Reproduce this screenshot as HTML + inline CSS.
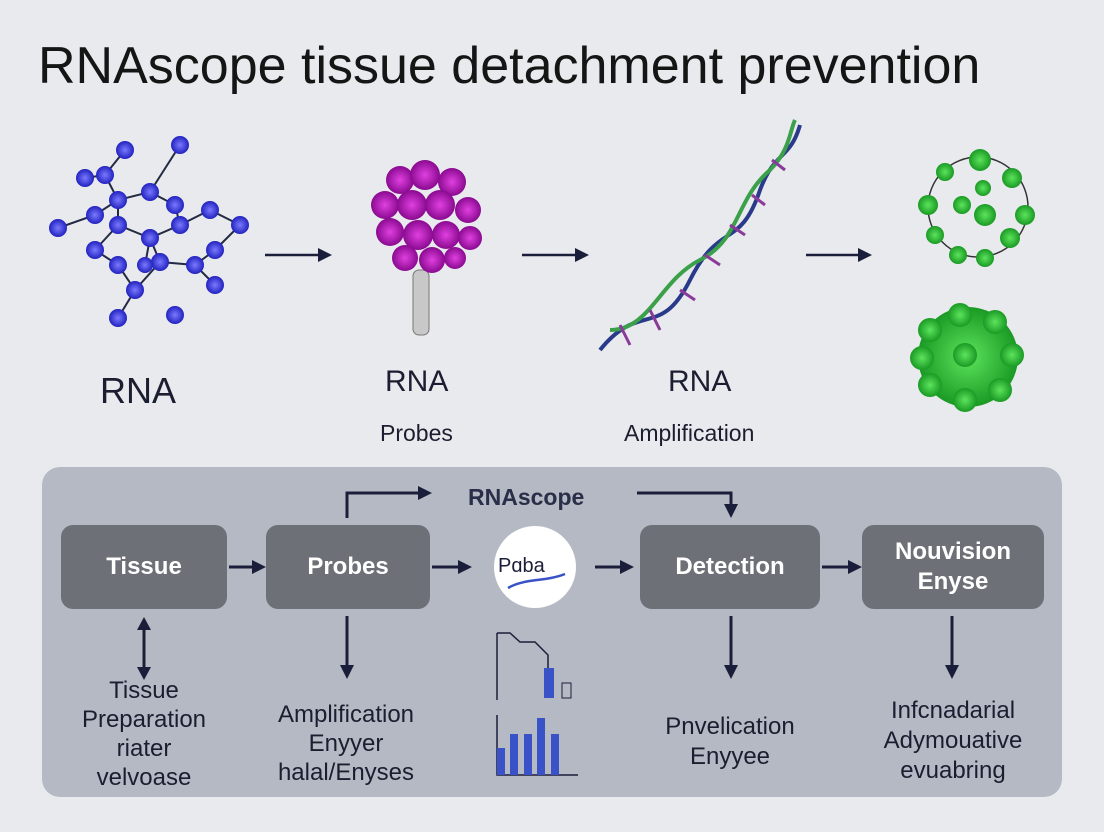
<!DOCTYPE html>
<html><head><style>
body{margin:0;width:1104px;height:832px;background:#e9eaed;font-family:"Liberation Sans",sans-serif;overflow:hidden;position:relative}
.t{position:absolute;white-space:nowrap;color:#1b1e30;text-align:center}
.box{position:absolute;background:#6d7077;border-radius:12px;color:#fff;font-weight:bold;font-size:24px;display:flex;align-items:center;justify-content:center;text-align:center;line-height:30px}
</style></head><body>
<div class="t" style="left:38px;top:36px;font-size:52px;color:#151515;text-align:left">RNAscope tissue detachment prevention</div>
<svg width="1104" height="832" style="position:absolute;left:0;top:0">
<defs>
<marker id="b" markerWidth="14" markerHeight="14" refX="10" refY="7" orient="auto" markerUnits="userSpaceOnUse"><path d="M0,0L14,7L0,14z" fill="#1b1e3a"/></marker>
<radialGradient id="gp"><stop offset="0" stop-color="#e040e0"/><stop offset="1" stop-color="#8a0a90"/></radialGradient>
<radialGradient id="gg"><stop offset="0" stop-color="#5de45d"/><stop offset="1" stop-color="#1a9a24"/></radialGradient>
<radialGradient id="gb"><stop offset="0" stop-color="#7a7aff"/><stop offset="1" stop-color="#2222c0"/></radialGradient></defs>
<g stroke="#222a44" stroke-width="2">
<path d="M125,150L105,175L85,178M105,175L118,200L95,215L58,228M118,200L150,192L180,145M150,192L175,205L180,225L150,238L118,225L118,200M118,225L95,250L118,265L135,290L118,318M150,238L160,262L135,290M160,262L195,265L215,285M180,225L210,210L240,225L215,250L195,265M150,238L145,265" fill="none"/>
</g>
<g fill="url(#gb)">
<circle cx="125" cy="150" r="9"/><circle cx="180" cy="145" r="9"/><circle cx="105" cy="175" r="9"/><circle cx="85" cy="178" r="9"/><circle cx="118" cy="200" r="9"/><circle cx="95" cy="215" r="9"/><circle cx="58" cy="228" r="9"/><circle cx="150" cy="192" r="9"/><circle cx="175" cy="205" r="9"/><circle cx="180" cy="225" r="9"/><circle cx="150" cy="238" r="9"/><circle cx="118" cy="225" r="9"/><circle cx="95" cy="250" r="9"/><circle cx="118" cy="265" r="9"/><circle cx="135" cy="290" r="9"/><circle cx="118" cy="318" r="9"/><circle cx="160" cy="262" r="9"/><circle cx="195" cy="265" r="9"/><circle cx="215" cy="285" r="9"/><circle cx="210" cy="210" r="9"/><circle cx="240" cy="225" r="9"/><circle cx="215" cy="250" r="9"/><circle cx="175" cy="315" r="9"/><circle cx="145" cy="265" r="8"/>
</g>
<rect x="413" y="270" width="16" height="65" rx="6" fill="#c8c8c8" stroke="#777"/>
<g fill="url(#gp)">
<circle cx="400" cy="180" r="14"/><circle cx="425" cy="175" r="15"/><circle cx="452" cy="182" r="14"/><circle cx="385" cy="205" r="14"/><circle cx="412" cy="205" r="15"/><circle cx="440" cy="205" r="15"/><circle cx="468" cy="210" r="13"/><circle cx="390" cy="232" r="14"/><circle cx="418" cy="235" r="15"/><circle cx="446" cy="235" r="14"/><circle cx="470" cy="238" r="12"/><circle cx="405" cy="258" r="13"/><circle cx="432" cy="260" r="13"/><circle cx="455" cy="258" r="11"/>
</g>
<g stroke="#2a3a8a" stroke-width="4" fill="none">
<path d="M600,350C640,300 660,340 690,280C720,220 740,250 760,190C775,150 790,160 800,125"/>
<path d="M610,330C650,330 660,280 700,260C740,240 735,200 770,170C790,150 790,130 795,120" stroke="#3aa04a"/>
</g>
<g stroke="#8a3a9a" stroke-width="3"><path d="M620,325L630,345M650,310L660,330M680,290L695,300M705,255L720,265M730,225L745,235M752,195L765,205M772,160L785,170"/></g>
<circle cx="978" cy="207" r="50" fill="none" stroke="#333" stroke-width="1.5"/>
<g fill="url(#gg)">
<circle cx="980" cy="160" r="11"/><circle cx="1012" cy="178" r="10"/><circle cx="1025" cy="215" r="10"/><circle cx="1010" cy="238" r="10"/><circle cx="985" cy="258" r="9"/><circle cx="958" cy="255" r="9"/><circle cx="935" cy="235" r="9"/><circle cx="928" cy="205" r="10"/><circle cx="945" cy="172" r="9"/><circle cx="985" cy="215" r="11"/><circle cx="962" cy="205" r="9"/><circle cx="983" cy="188" r="8"/>
<circle cx="968" cy="357" r="50"/>
<circle cx="930" cy="330" r="12"/><circle cx="960" cy="315" r="12"/><circle cx="995" cy="322" r="12"/><circle cx="1012" cy="355" r="12"/><circle cx="1000" cy="390" r="12"/><circle cx="965" cy="400" r="12"/><circle cx="930" cy="385" r="12"/><circle cx="922" cy="358" r="12"/><circle cx="965" cy="355" r="12"/>
</g>
<g stroke="#1b1e3a" stroke-width="2.5">
<line x1="265" y1="255" x2="328" y2="255" marker-end="url(#b)"/>
<line x1="522" y1="255" x2="585" y2="255" marker-end="url(#b)"/>
<line x1="806" y1="255" x2="868" y2="255" marker-end="url(#b)"/>
</g>
<rect x="42" y="467" width="1020" height="330" rx="18" fill="#b5b9c3"/>
<g stroke="#1b1e3a" stroke-width="3" fill="none">
<path d="M347,518V493H428" marker-end="url(#b)"/>
<path d="M637,493H731V514" marker-end="url(#b)"/>
<line x1="229" y1="567" x2="262" y2="567" marker-end="url(#b)"/>
<line x1="432" y1="567" x2="468" y2="567" marker-end="url(#b)"/>
<line x1="595" y1="567" x2="630" y2="567" marker-end="url(#b)"/>
<line x1="822" y1="567" x2="858" y2="567" marker-end="url(#b)"/>
<line x1="144" y1="625" x2="144" y2="670"/>
<path d="M137,630L144,617L151,630z M137,667L144,680L151,667z" fill="#1b1e3a" stroke="none"/>
<line x1="347" y1="616" x2="347" y2="675" marker-end="url(#b)"/>
<line x1="731" y1="616" x2="731" y2="675" marker-end="url(#b)"/>
<line x1="952" y1="616" x2="952" y2="675" marker-end="url(#b)"/>
<path d="M497,633V700" stroke-width="1.5"/>
<path d="M497,633H510L520,642H535L548,655V672" stroke-width="1.5"/>
<path d="M497,715V775H578" stroke-width="1.5"/>
</g>
<rect x="544" y="668" width="10" height="30" fill="#3a52c8"/><rect x="562" y="683" width="9" height="15" fill="none" stroke="#1b1e3a"/>
<g fill="#3a52c8"><rect x="497" y="748" width="8" height="27"/><rect x="510" y="734" width="8" height="41"/><rect x="524" y="734" width="8" height="41"/><rect x="537" y="718" width="8" height="57"/><rect x="551" y="734" width="8" height="41"/></g>
<circle cx="535" cy="567" r="41" fill="#fff"/>
<path d="M508,588C525,578 545,582 565,574" stroke="#3a52c8" stroke-width="2.5" fill="none"/>
</svg>
<div class="t" style="left:100px;top:370px;font-size:36px">RNA</div>
<div class="t" style="left:385px;top:365px;font-size:30px">RNA</div>
<div class="t" style="left:380px;top:420px;font-size:23px">Probes</div>
<div class="t" style="left:668px;top:365px;font-size:30px">RNA</div>
<div class="t" style="left:624px;top:420px;font-size:23px">Amplification</div>
<div class="t" style="left:468px;top:484px;font-size:23px;font-weight:bold;color:#2a2e48">RNAscope</div>
<div class="box" style="left:61px;top:525px;width:166px;height:84px">Tissue</div>
<div class="box" style="left:266px;top:525px;width:164px;height:84px">Probes</div>
<div class="box" style="left:640px;top:525px;width:180px;height:84px">Detection</div>
<div class="box" style="left:862px;top:525px;width:182px;height:84px">Nouvision<br>Enyse</div>
<div class="t" style="left:498px;top:555px;font-size:20px;color:#1b1e3a">Pɑba</div>
<div class="t" style="left:64px;top:676px;width:160px;font-size:24px;line-height:29px">Tissue<br>Preparation<br>riater<br>velvoase</div>
<div class="t" style="left:256px;top:700px;width:180px;font-size:24px;line-height:29px">Amplification<br>Enyyer<br>halal/Enyses</div>
<div class="t" style="left:645px;top:712px;width:170px;font-size:24px;line-height:30px">Pnvelication<br>Enyyee</div>
<div class="t" style="left:862px;top:696px;width:182px;font-size:24px;line-height:30px">Infcnadarial<br>Adymouative<br>evuabring</div>
</body></html>
